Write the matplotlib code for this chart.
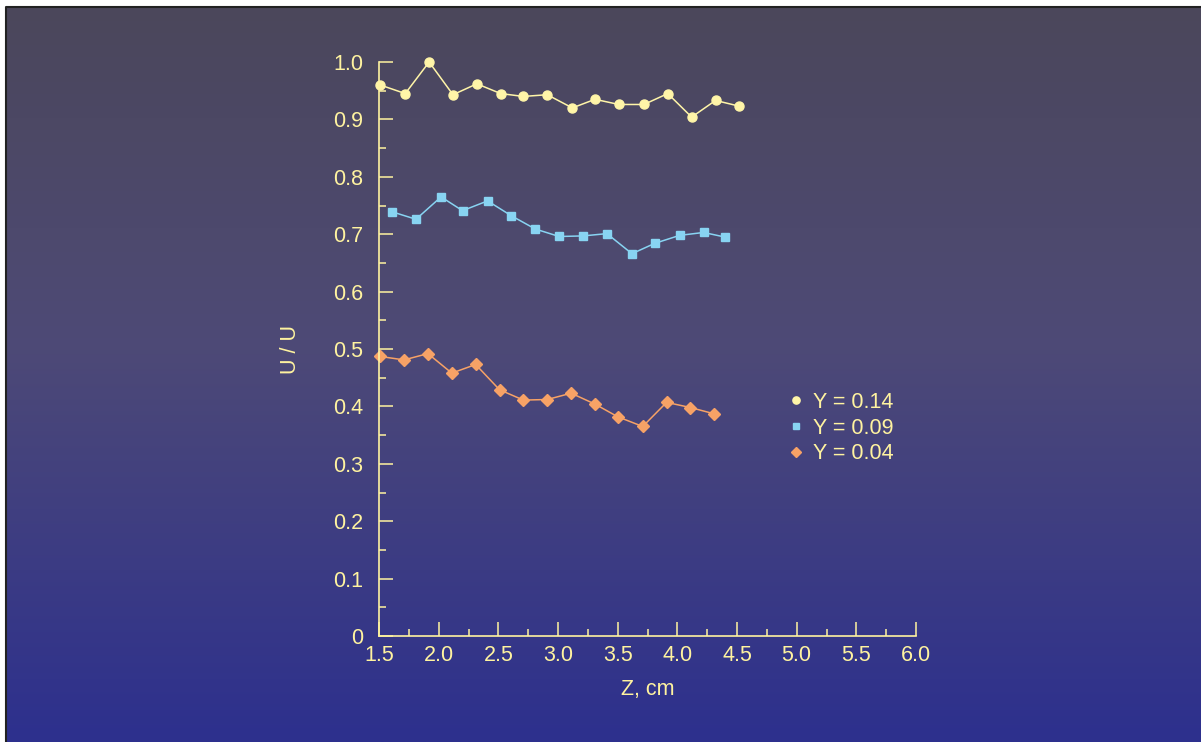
import numpy as np
import matplotlib
matplotlib.use("Agg")
import matplotlib.pyplot as plt
from matplotlib.ticker import MultipleLocator, FuncFormatter
from matplotlib.lines import Line2D

# Data
z_014 = [1.51, 1.72, 1.92, 2.12, 2.32, 2.52, 2.71, 2.91, 3.12, 3.31, 3.51, 3.72, 3.92, 4.12, 4.32, 4.52]
u_014 = [0.960, 0.945, 1.000, 0.943, 0.962, 0.945, 0.940, 0.943, 0.920, 0.935, 0.926, 0.926, 0.945, 0.904, 0.933, 0.923]

z_009 = [1.61, 1.81, 2.02, 2.20, 2.41, 2.61, 2.81, 3.01, 3.21, 3.41, 3.62, 3.81, 4.02, 4.22, 4.40]
u_009 = [0.739, 0.726, 0.765, 0.741, 0.758, 0.732, 0.709, 0.696, 0.697, 0.701, 0.666, 0.684, 0.698, 0.703, 0.695]

z_004 = [1.51, 1.71, 1.91, 2.11, 2.31, 2.51, 2.71, 2.91, 3.11, 3.31, 3.50, 3.71, 3.91, 4.11, 4.31]
u_004 = [0.487, 0.481, 0.492, 0.458, 0.473, 0.429, 0.411, 0.412, 0.423, 0.404, 0.382, 0.365, 0.407, 0.398, 0.387]

labels = ["Y = 0.14", "Y = 0.09", "Y = 0.04"]
x_ticks = [1.5, 2.0, 2.5, 3.0, 3.5, 4.0, 4.5, 5.0, 5.5, 6.0]

W, H = 1201, 742
fig = plt.figure(figsize=(W / 100, H / 100), dpi=100)
fig.patch.set_facecolor("white")

# Gradient background panel
bg = fig.add_axes([6 / W, 0, (W - 6) / W, (H - 7) / H])
bg.set_axis_off()
top = np.array([75, 71, 91]) / 255
mid = np.array([78, 74, 118]) / 255
bot = np.array([45, 48, 142]) / 255
n = 256
t = np.linspace(0, 1, n)[:, None]
grad = np.where(t < 0.45, top + (mid - top) * (t / 0.45), mid + (bot - mid) * ((t - 0.45) / 0.55))
bg.imshow(grad[:, None, :].repeat(2, axis=1), aspect="auto", extent=[0, 1, 0, 1], origin="upper")
bg.set_xlim(0, 1)
bg.set_ylim(0, 1)
# thin dark border on top and left edges
bg.add_line(Line2D([0, 0, 1], [0, 1, 1], transform=bg.transAxes, color="#222222", lw=1.5, clip_on=False))

fg = "#FFF3A0"
c1, c2, c3 = "#FFF5A8", "#88D4F2", "#F7A266"
font = "Liberation Sans"
fs = 15.5

ax = fig.add_axes([379 / W, (H - 636) / H, 537 / W, 574 / H])
ax.patch.set_alpha(0)
for s in ["top", "right"]:
    ax.spines[s].set_visible(False)
for s in ["left", "bottom"]:
    ax.spines[s].set_color(fg)
    ax.spines[s].set_linewidth(1.2)

ax.plot(z_014, u_014, color=c1, lw=1.1, marker="o", ms=6.5, mec=c1, mfc=c1, label=labels[0], clip_on=False)
ax.plot(z_009, u_009, color=c2, lw=1.1, marker="s", ms=6, mec=c2, mfc=c2, label=labels[1], clip_on=False)
ax.plot(z_004, u_004, color=c3, lw=1.1, marker="D", ms=6.5, mec=c3, mfc=c3, label=labels[2], clip_on=False)

ax.set_xlim(1.5, 6.0)
ax.set_ylim(0, 1.0)
ax.set_xticks(x_ticks)
ax.xaxis.set_minor_locator(MultipleLocator(0.25))
ax.yaxis.set_major_locator(MultipleLocator(0.1))
ax.yaxis.set_minor_locator(MultipleLocator(0.05))
ax.xaxis.set_major_formatter(FuncFormatter(lambda v, p: f"{v:.1f}"))
ax.yaxis.set_major_formatter(FuncFormatter(lambda v, p: "0" if abs(v) < 1e-9 else f"{v:.1f}"))

ax.tick_params(which="major", direction="in", length=10, width=1.1, color=fg, labelcolor=fg, labelsize=fs)
ax.tick_params(which="minor", direction="in", length=5, width=1.1, color=fg)
ax.tick_params(axis="y", pad=11.5)
ax.tick_params(axis="x", pad=6.5)
for lab in ax.get_xticklabels() + ax.get_yticklabels():
    lab.set_fontfamily(font)

ax.set_xlabel("Z, cm", color=fg, fontsize=fs, fontfamily=font, va="center")
ax.xaxis.set_label_coords(0.5, -(690 - 636) / 574)
ax.set_ylabel("U / U", color=fg, fontsize=fs, fontfamily=font, va="center")
ax.yaxis.set_label_coords(-(379 - 291) / 537, 0.5)

leg = ax.legend(loc="center left", bbox_to_anchor=((790 - 379) / 537, (636 - 428) / 574), frameon=False,
                prop={"family": font, "size": fs}, handlelength=0.6, handletextpad=0.45,
                labelspacing=0.22, markerscale=0.8, borderpad=0, borderaxespad=0)
for h in leg.legend_handles:
    h.set_linestyle("none")
for txt in leg.get_texts():
    txt.set_color(fg)

fig.savefig("out.png", dpi=100, facecolor=fig.get_facecolor())
